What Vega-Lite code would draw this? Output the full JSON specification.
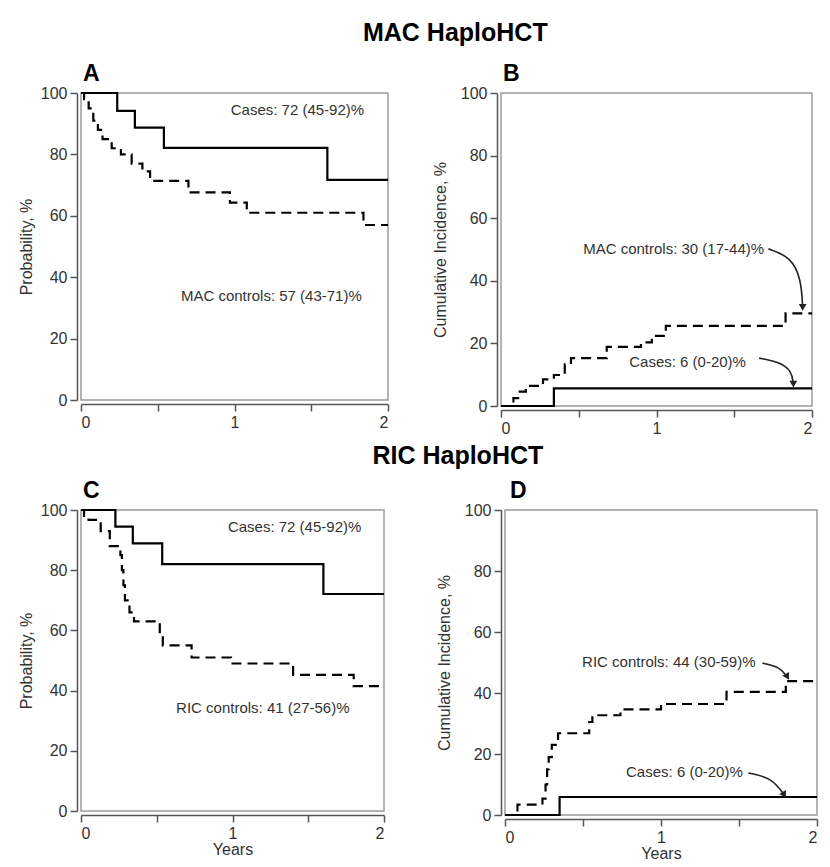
{
  "$schema": "https://vega.github.io/schema/vega-lite/v6.json",
  "padding": {"left": 17, "top": 21, "right": 5, "bottom": 2},
  "background": "white",
  "datasets": {
    "curves": [
      {"panel": "A", "group": "Cases", "t": 0, "v": 100},
      {"panel": "A", "group": "Cases", "t": 0.236, "v": 94.2},
      {"panel": "A", "group": "Cases", "t": 0.351, "v": 88.7},
      {"panel": "A", "group": "Cases", "t": 0.54, "v": 82.1},
      {"panel": "A", "group": "Cases", "t": 1.605, "v": 71.7},
      {"panel": "A", "group": "Cases", "t": 2.0, "v": 71.7},
      {"panel": "A", "group": "Controls", "t": 0, "v": 100},
      {"panel": "A", "group": "Controls", "t": 0.02, "v": 98},
      {"panel": "A", "group": "Controls", "t": 0.05, "v": 95},
      {"panel": "A", "group": "Controls", "t": 0.08, "v": 91},
      {"panel": "A", "group": "Controls", "t": 0.11, "v": 88},
      {"panel": "A", "group": "Controls", "t": 0.14, "v": 85},
      {"panel": "A", "group": "Controls", "t": 0.2, "v": 82},
      {"panel": "A", "group": "Controls", "t": 0.26, "v": 80},
      {"panel": "A", "group": "Controls", "t": 0.33, "v": 77},
      {"panel": "A", "group": "Controls", "t": 0.4, "v": 74.5},
      {"panel": "A", "group": "Controls", "t": 0.45, "v": 71.4},
      {"panel": "A", "group": "Controls", "t": 0.7, "v": 67.6},
      {"panel": "A", "group": "Controls", "t": 0.97, "v": 64.3},
      {"panel": "A", "group": "Controls", "t": 1.08, "v": 61},
      {"panel": "A", "group": "Controls", "t": 1.84, "v": 57},
      {"panel": "A", "group": "Controls", "t": 2.0, "v": 57},
      {"panel": "B", "group": "Cases", "t": 0, "v": 0},
      {"panel": "B", "group": "Cases", "t": 0.34, "v": 5.6},
      {"panel": "B", "group": "Cases", "t": 2.0, "v": 5.6},
      {"panel": "B", "group": "Controls", "t": 0, "v": 0},
      {"panel": "B", "group": "Controls", "t": 0.08, "v": 2.5},
      {"panel": "B", "group": "Controls", "t": 0.11, "v": 4.6},
      {"panel": "B", "group": "Controls", "t": 0.16, "v": 6.4},
      {"panel": "B", "group": "Controls", "t": 0.27, "v": 8.5},
      {"panel": "B", "group": "Controls", "t": 0.34, "v": 9.9},
      {"panel": "B", "group": "Controls", "t": 0.41, "v": 13.3},
      {"panel": "B", "group": "Controls", "t": 0.45, "v": 15.3},
      {"panel": "B", "group": "Controls", "t": 0.68, "v": 18.9},
      {"panel": "B", "group": "Controls", "t": 0.9, "v": 20.3},
      {"panel": "B", "group": "Controls", "t": 0.97, "v": 22.4},
      {"panel": "B", "group": "Controls", "t": 1.06, "v": 25.6},
      {"panel": "B", "group": "Controls", "t": 1.83, "v": 29.6},
      {"panel": "B", "group": "Controls", "t": 2.0, "v": 29.6},
      {"panel": "C", "group": "Cases", "t": 0, "v": 100},
      {"panel": "C", "group": "Cases", "t": 0.227, "v": 94.5},
      {"panel": "C", "group": "Cases", "t": 0.342, "v": 88.9},
      {"panel": "C", "group": "Cases", "t": 0.536, "v": 82},
      {"panel": "C", "group": "Cases", "t": 1.6, "v": 72.1},
      {"panel": "C", "group": "Cases", "t": 2.0, "v": 72.1},
      {"panel": "C", "group": "Controls", "t": 0, "v": 100},
      {"panel": "C", "group": "Controls", "t": 0.02, "v": 98},
      {"panel": "C", "group": "Controls", "t": 0.05, "v": 96.7},
      {"panel": "C", "group": "Controls", "t": 0.13, "v": 93},
      {"panel": "C", "group": "Controls", "t": 0.19, "v": 88},
      {"panel": "C", "group": "Controls", "t": 0.26, "v": 85},
      {"panel": "C", "group": "Controls", "t": 0.27, "v": 80},
      {"panel": "C", "group": "Controls", "t": 0.28, "v": 75},
      {"panel": "C", "group": "Controls", "t": 0.29, "v": 70},
      {"panel": "C", "group": "Controls", "t": 0.32, "v": 66},
      {"panel": "C", "group": "Controls", "t": 0.35, "v": 63},
      {"panel": "C", "group": "Controls", "t": 0.52, "v": 59},
      {"panel": "C", "group": "Controls", "t": 0.54, "v": 55},
      {"panel": "C", "group": "Controls", "t": 0.73, "v": 51},
      {"panel": "C", "group": "Controls", "t": 0.99, "v": 49},
      {"panel": "C", "group": "Controls", "t": 1.4, "v": 45.2},
      {"panel": "C", "group": "Controls", "t": 1.8, "v": 41.5},
      {"panel": "C", "group": "Controls", "t": 2.0, "v": 41.5},
      {"panel": "D", "group": "Cases", "t": 0, "v": 0},
      {"panel": "D", "group": "Cases", "t": 0.35, "v": 5.9},
      {"panel": "D", "group": "Cases", "t": 2.0, "v": 5.9},
      {"panel": "D", "group": "Controls", "t": 0, "v": 0},
      {"panel": "D", "group": "Controls", "t": 0.08, "v": 3.4},
      {"panel": "D", "group": "Controls", "t": 0.24, "v": 5.4},
      {"panel": "D", "group": "Controls", "t": 0.26, "v": 10},
      {"panel": "D", "group": "Controls", "t": 0.27, "v": 15},
      {"panel": "D", "group": "Controls", "t": 0.28, "v": 19},
      {"panel": "D", "group": "Controls", "t": 0.3, "v": 23},
      {"panel": "D", "group": "Controls", "t": 0.34, "v": 26.8},
      {"panel": "D", "group": "Controls", "t": 0.54, "v": 30.5},
      {"panel": "D", "group": "Controls", "t": 0.56, "v": 32.7},
      {"panel": "D", "group": "Controls", "t": 0.74, "v": 34.6},
      {"panel": "D", "group": "Controls", "t": 1.0, "v": 36.4},
      {"panel": "D", "group": "Controls", "t": 1.42, "v": 40.4},
      {"panel": "D", "group": "Controls", "t": 1.8, "v": 43.9},
      {"panel": "D", "group": "Controls", "t": 2.0, "v": 43.9}
    ],
    "labels": [
      {"panel": "A", "t": 1.41, "v": 94.5, "label": "Cases: 72 (45-92)%"},
      {"panel": "A", "t": 1.24, "v": 33.9, "label": "MAC controls: 57 (43-71)%"},
      {"panel": "B", "t": 1.11, "v": 50.2, "label": "MAC controls: 30 (17-44)%"},
      {"panel": "B", "t": 1.2, "v": 14, "label": "Cases: 6 (0-20)%"},
      {"panel": "C", "t": 1.41, "v": 94.4, "label": "Cases: 72 (45-92)%"},
      {"panel": "C", "t": 1.2, "v": 34.2, "label": "RIC controls: 41 (27-56)%"},
      {"panel": "D", "t": 1.05, "v": 50.2, "label": "RIC controls: 44 (30-59)%"},
      {"panel": "D", "t": 1.15, "v": 14.1, "label": "Cases: 6 (0-20)%"}
    ],
    "arrows": [
      {"panel": "B", "id": "B1", "i": 0, "t": 1.72, "v": 50.2},
      {"panel": "B", "id": "B1", "i": 1, "t": 1.865, "v": 47.6},
      {"panel": "B", "id": "B1", "i": 2, "t": 1.93, "v": 40.6},
      {"panel": "B", "id": "B1", "i": 3, "t": 1.94, "v": 31.5},
      {"panel": "B", "id": "B2", "i": 0, "t": 1.66, "v": 15.3},
      {"panel": "B", "id": "B2", "i": 1, "t": 1.79, "v": 14.1},
      {"panel": "B", "id": "B2", "i": 2, "t": 1.87, "v": 11.2},
      {"panel": "B", "id": "B2", "i": 3, "t": 1.88, "v": 7},
      {"panel": "D", "id": "D1", "i": 0, "t": 1.65, "v": 49.8},
      {"panel": "D", "id": "D1", "i": 1, "t": 1.76, "v": 48.6},
      {"panel": "D", "id": "D1", "i": 2, "t": 1.81, "v": 45.3},
      {"panel": "D", "id": "D2", "i": 0, "t": 1.56, "v": 13.8},
      {"panel": "D", "id": "D2", "i": 1, "t": 1.71, "v": 12.2},
      {"panel": "D", "id": "D2", "i": 2, "t": 1.79, "v": 6.6}
    ],
    "heads": [
      {"panel": "B", "id": "B1", "t": 1.94, "v": 31.5},
      {"panel": "B", "id": "B2", "t": 1.88, "v": 7},
      {"panel": "D", "id": "D1", "t": 1.81, "v": 45.3},
      {"panel": "D", "id": "D2", "t": 1.79, "v": 6.6}
    ]
  },
  "vconcat": [
    {
      "title": {"text": "MAC HaploHCT", "anchor": "middle", "frame": "bounds", "dx": 38, "fontSize": 25, "fontWeight": "bold", "font": "Liberation Sans", "color": "#000", "offset": 16},
      "spacing": 37,
      "hconcat": [
        {
          "title": {"text": "A", "anchor": "start", "frame": "group", "dx": 2, "fontSize": 23, "fontWeight": "bold", "font": "Liberation Sans", "color": "#000", "offset": -1},
          "width": 307, "height": 307,
          "layer": [
            {
              "data": {"name": "curves"},
              "transform": [{"filter": "datum.panel === 'A'"}],
              "mark": {"type": "line", "interpolate": "step-after", "color": "black", "strokeWidth": 2.2},
              "encoding": {
                "x": {"field": "t", "type": "quantitative", "scale": {"domain": [0, 2], "nice": false},
                  "axis": {"title": null, "values": [0, 0.5, 1, 1.5, 2], "labelExpr": "datum.value % 1 === 0 ? format(datum.value, 'd') : ''"}},
                "y": {"field": "v", "type": "quantitative", "scale": {"domain": [0, 100], "nice": false},
                  "axis": {"title": "Probability, %", "titlePadding": 6, "values": [0, 10, 20, 30, 40, 50, 60, 70, 80, 90, 100], "labelExpr": "datum.value % 20 === 0 ? datum.label : ''"}},
                "strokeDash": {"field": "group", "type": "nominal", "scale": {"domain": ["Cases", "Controls"], "range": [[1, 0], [10, 6]]}, "legend": null}
              }
            },
            {
              "data": {"name": "labels"},
              "transform": [{"filter": "datum.panel === 'A'"}],
              "mark": {"type": "text", "fontSize": 15, "color": "#333", "font": "Liberation Sans"},
              "encoding": {
                "x": {"field": "t", "type": "quantitative"},
                "y": {"field": "v", "type": "quantitative"},
                "text": {"field": "label"}
              }
            }
          ]
        },
        {
          "title": {"text": "B", "anchor": "start", "frame": "group", "dx": 2, "fontSize": 23, "fontWeight": "bold", "font": "Liberation Sans", "color": "#000", "offset": -1},
          "width": 311, "height": 313,
          "layer": [
            {
              "data": {"name": "curves"},
              "transform": [{"filter": "datum.panel === 'B'"}],
              "mark": {"type": "line", "interpolate": "step-after", "color": "black", "strokeWidth": 2.2},
              "encoding": {
                "x": {"field": "t", "type": "quantitative", "scale": {"domain": [0, 2], "nice": false},
                  "axis": {"title": null, "values": [0, 0.5, 1, 1.5, 2], "labelExpr": "datum.value % 1 === 0 ? format(datum.value, 'd') : ''"}},
                "y": {"field": "v", "type": "quantitative", "scale": {"domain": [0, 100], "nice": false},
                  "axis": {"title": "Cumulative Incidence, %", "titlePadding": 12, "values": [0, 10, 20, 30, 40, 50, 60, 70, 80, 90, 100], "labelExpr": "datum.value % 20 === 0 ? datum.label : ''"}},
                "strokeDash": {"field": "group", "type": "nominal", "scale": {"domain": ["Cases", "Controls"], "range": [[1, 0], [10, 6]]}, "legend": null}
              }
            },
            {
              "data": {"name": "labels"},
              "transform": [{"filter": "datum.panel === 'B'"}],
              "mark": {"type": "text", "fontSize": 15, "color": "#333", "font": "Liberation Sans"},
              "encoding": {
                "x": {"field": "t", "type": "quantitative"},
                "y": {"field": "v", "type": "quantitative"},
                "text": {"field": "label"}
              }
            },
            {
              "data": {"name": "arrows"},
              "transform": [{"filter": "datum.panel === 'B'"}],
              "mark": {"type": "line", "interpolate": "basis", "color": "#222", "strokeWidth": 1.6},
              "encoding": {
                "x": {"field": "t", "type": "quantitative"},
                "y": {"field": "v", "type": "quantitative"},
                "detail": {"field": "id"},
                "order": {"field": "i"}
              }
            },
            {
              "data": {"name": "heads"},
              "transform": [{"filter": "datum.panel === 'B'"}],
              "mark": {"type": "point", "shape": "triangle-down", "filled": true, "color": "#222", "size": 60, "opacity": 1},
              "encoding": {
                "x": {"field": "t", "type": "quantitative"},
                "y": {"field": "v", "type": "quantitative"}
              }
            }
          ]
        }
      ]
    },
    {
      "title": {"text": "RIC HaploHCT", "anchor": "middle", "frame": "bounds", "dx": 38, "fontSize": 25, "fontWeight": "bold", "font": "Liberation Sans", "color": "#000", "offset": 10},
      "spacing": 45,
      "hconcat": [
        {
          "title": {"text": "C", "anchor": "start", "frame": "group", "dx": 2, "fontSize": 23, "fontWeight": "bold", "font": "Liberation Sans", "color": "#000", "offset": -1},
          "width": 303, "height": 301,
          "layer": [
            {
              "data": {"name": "curves"},
              "transform": [{"filter": "datum.panel === 'C'"}],
              "mark": {"type": "line", "interpolate": "step-after", "color": "black", "strokeWidth": 2.2},
              "encoding": {
                "x": {"field": "t", "type": "quantitative", "scale": {"domain": [0, 2], "nice": false},
                  "axis": {"title": "Years", "titlePadding": 0, "values": [0, 0.5, 1, 1.5, 2], "labelExpr": "datum.value % 1 === 0 ? format(datum.value, 'd') : ''"}},
                "y": {"field": "v", "type": "quantitative", "scale": {"domain": [0, 100], "nice": false},
                  "axis": {"title": "Probability, %", "titlePadding": 6, "values": [0, 10, 20, 30, 40, 50, 60, 70, 80, 90, 100], "labelExpr": "datum.value % 20 === 0 ? datum.label : ''"}},
                "strokeDash": {"field": "group", "type": "nominal", "scale": {"domain": ["Cases", "Controls"], "range": [[1, 0], [10, 6]]}, "legend": null}
              }
            },
            {
              "data": {"name": "labels"},
              "transform": [{"filter": "datum.panel === 'C'"}],
              "mark": {"type": "text", "fontSize": 15, "color": "#333", "font": "Liberation Sans"},
              "encoding": {
                "x": {"field": "t", "type": "quantitative"},
                "y": {"field": "v", "type": "quantitative"},
                "text": {"field": "label"}
              }
            }
          ]
        },
        {
          "title": {"text": "D", "anchor": "start", "frame": "group", "dx": 5, "fontSize": 23, "fontWeight": "bold", "font": "Liberation Sans", "color": "#000", "offset": -1},
          "width": 312, "height": 305,
          "layer": [
            {
              "data": {"name": "curves"},
              "transform": [{"filter": "datum.panel === 'D'"}],
              "mark": {"type": "line", "interpolate": "step-after", "color": "black", "strokeWidth": 2.2},
              "encoding": {
                "x": {"field": "t", "type": "quantitative", "scale": {"domain": [0, 2], "nice": false},
                  "axis": {"title": "Years", "titlePadding": 0, "values": [0, 0.5, 1, 1.5, 2], "labelExpr": "datum.value % 1 === 0 ? format(datum.value, 'd') : ''"}},
                "y": {"field": "v", "type": "quantitative", "scale": {"domain": [0, 100], "nice": false},
                  "axis": {"title": "Cumulative Incidence, %", "titlePadding": 12, "values": [0, 10, 20, 30, 40, 50, 60, 70, 80, 90, 100], "labelExpr": "datum.value % 20 === 0 ? datum.label : ''"}},
                "strokeDash": {"field": "group", "type": "nominal", "scale": {"domain": ["Cases", "Controls"], "range": [[1, 0], [10, 6]]}, "legend": null}
              }
            },
            {
              "data": {"name": "labels"},
              "transform": [{"filter": "datum.panel === 'D'"}],
              "mark": {"type": "text", "fontSize": 15, "color": "#333", "font": "Liberation Sans"},
              "encoding": {
                "x": {"field": "t", "type": "quantitative"},
                "y": {"field": "v", "type": "quantitative"},
                "text": {"field": "label"}
              }
            },
            {
              "data": {"name": "arrows"},
              "transform": [{"filter": "datum.panel === 'D'"}],
              "mark": {"type": "line", "interpolate": "basis", "color": "#222", "strokeWidth": 1.6},
              "encoding": {
                "x": {"field": "t", "type": "quantitative"},
                "y": {"field": "v", "type": "quantitative"},
                "detail": {"field": "id"},
                "order": {"field": "i"}
              }
            },
            {
              "data": {"name": "heads"},
              "transform": [{"filter": "datum.panel === 'D'"}],
              "mark": {"type": "point", "shape": "triangle-down", "filled": true, "color": "#222", "size": 60, "opacity": 1, "angle": -30},
              "encoding": {
                "x": {"field": "t", "type": "quantitative"},
                "y": {"field": "v", "type": "quantitative"}
              }
            }
          ]
        }
      ]
    }
  ],
  "spacing": 7,
  "config": {
    "view": {"stroke": "#9a9a9a", "strokeWidth": 1.5},
    "axis": {
      "domainColor": "#555", "tickColor": "#555", "domainWidth": 1.5, "tickWidth": 1.5, "tickSize": 7,
      "labelFontSize": 16, "titleFontSize": 16, "labelColor": "#333", "titleColor": "#333",
      "labelFont": "Liberation Sans", "titleFont": "Liberation Sans", "titleFontWeight": "normal",
      "grid": false, "offset": 4, "labelPadding": 3
    }
  }
}
